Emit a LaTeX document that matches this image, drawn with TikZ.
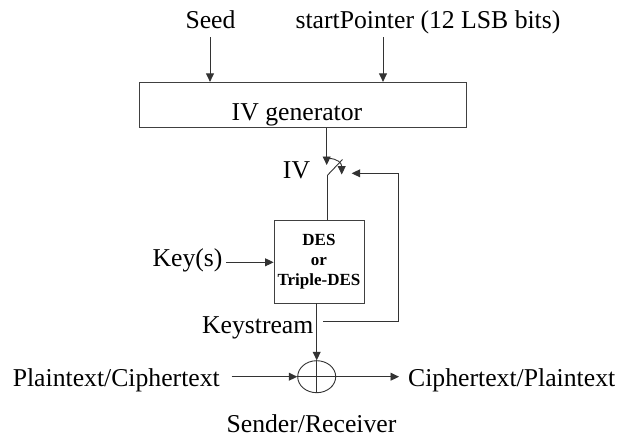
\documentclass[tikz,border=0pt]{standalone}
\usepackage{fontspec}
\setmainfont{Liberation Serif}
\usetikzlibrary{arrows.meta,shapes.geometric}
\begin{document}
\begin{tikzpicture}[x=1pt,y=-1pt,
  lbl/.style={inner sep=0pt, anchor=base, font=\fontsize{25.7}{30}\selectfont},
  ln/.style={line width=0.9pt, draw=black!80},
  arr/.style={ln, -{Triangle[length=8.5pt,width=8pt]}},
  blk/.style={draw=black!75, line width=0.9pt, inner sep=0pt}]
\useasboundingbox (0,0) rectangle (618,437);
% top inputs
\node[lbl] (seed) at (210.5,28) {Seed};
\node[lbl] (sp) at (428,28) {startPointer (12 LSB bits)};
\node[blk, minimum width=327.4pt, minimum height=45pt] (gen) at (303,104.8) {};
\node[lbl] (gent) at (297,120.5) {IV generator};
\coordinate (sda) at (210,37);
\coordinate (spa) at (383,37);
\draw[arr] (sda) -- (sda |- gen.north);
\draw[arr] (spa) -- (spa |- gen.north);
% IV and switch
\coordinate (ivt) at (326.7,165);
\draw[arr] (gen.south -| ivt) -- (ivt);
\node[lbl] (ivl) at (296.5,178) {IV};
\coordinate (sw0) at (327.7,175);
\coordinate (sw1) at (342.5,159.5);
\draw[ln] (sw0) -- (sw1);
\coordinate (c0) at (329,158.5);
\coordinate (c1) at (341.7,174.5);
\draw[arr] (c0) .. controls (337,158.5) and (341.7,163) .. (c1);
% DES block
\node[blk, minimum width=90pt, minimum height=83pt, align=center,
      font=\bfseries\fontsize{17}{20.3}\selectfont] (des) at (319,261.5) {DES\\or\\Triple-DES};
\draw[ln] (sw0) -- (sw0 |- des.north);
\node[lbl] (key) at (187.5,266.7) {Key(s)};
\coordinate (ka) at (226,262.3);
\draw[arr] (ka) -- (ka -| des.west);
% XOR
\node[draw=black!80, line width=0.9pt, ellipse, minimum width=38pt, minimum height=32pt, inner sep=0pt] (xor) at (316.7,376.7) {};
\draw[ln] (xor.north) -- (xor.south);
\draw[ln] (xor.west) -- (xor.east);
\draw[arr] (des.south -| xor.north) -- (xor.north);
\node[lbl] (ks) at (257.7,333) {Keystream};
% feedback
\coordinate (fb0) at (323,321);
\coordinate (fbc) at (398.3,321);
\coordinate (fbt) at (351.7,173.3);
\draw[arr] (fb0) -- (fbc) -- (fbc |- fbt) -- (fbt);
% data path
\node[lbl] (pt) at (116.3,386) {Plaintext/Ciphertext};
\coordinate (pta) at (231.7,376.7);
\draw[arr] (pta) -- (xor.west);
\node[lbl] (ct) at (511.7,386) {Ciphertext/Plaintext};
\coordinate (cta) at (399,376.7);
\draw[arr] (xor.east) -- (cta);
\node[lbl] (sr) at (311.5,432) {Sender/Receiver};
\end{tikzpicture}
\end{document}
